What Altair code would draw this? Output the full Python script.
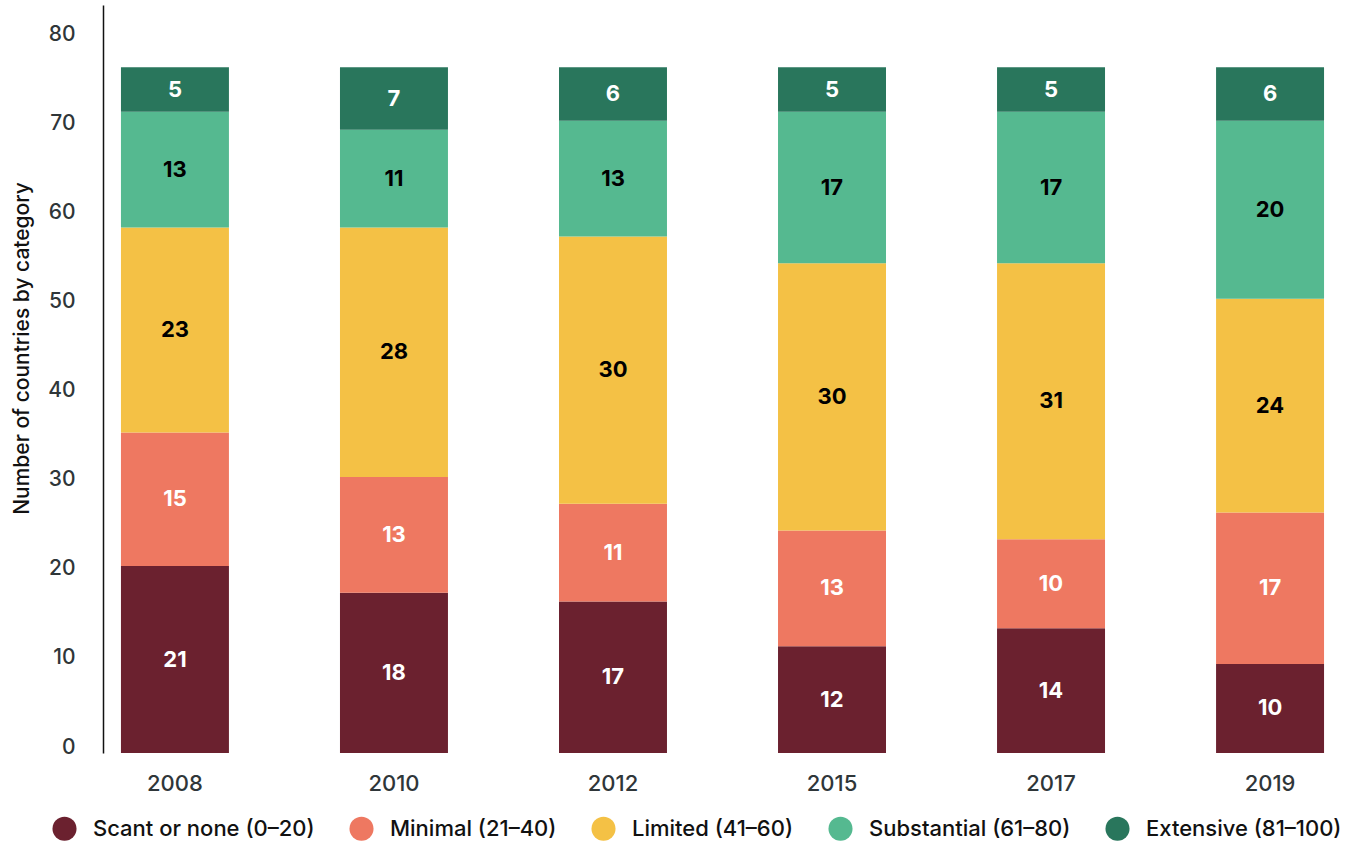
import altair as alt
import pandas as pd

years = ["2008", "2010", "2012", "2015", "2017", "2019"]
categories = [
    "Scant or none (0–20)",
    "Minimal (21–40)",
    "Limited (41–60)",
    "Substantial (61–80)",
    "Extensive (81–100)",
]
scant = [21, 18, 17, 12, 14, 10]
minimal = [15, 13, 11, 13, 10, 17]
limited = [23, 28, 30, 30, 31, 24]
substantial = [13, 11, 13, 17, 17, 20]
extensive = [5, 7, 6, 5, 5, 6]
y_ticks = [0, 10, 20, 30, 40, 50, 60, 70, 80]

colors = ["#6B212F", "#EE7861", "#F4C145", "#55B990", "#29765C"]

series = [scant, minimal, limited, substantial, extensive]
rows = []
for ci, (cat, vals) in enumerate(zip(categories, series)):
    for yi, yr in enumerate(years):
        rows.append({"year": yr, "category": cat, "idx": ci, "value": vals[yi]})
df = pd.DataFrame(rows)

FONT = "Inter"

base = alt.Chart(df)

bars = base.mark_bar(stroke=None).encode(
    x=alt.X("year:N", sort=years,
            scale=alt.Scale(paddingInner=0.507, paddingOuter=0.082),
            axis=alt.Axis(title=None, labelAngle=0, domain=False, ticks=False,
                          labelPadding=20, labelFontSize=22, labelFont=FONT,
                          labelFontWeight=500, labelColor="#2f3639")),
    y=alt.Y("sum(value):Q", stack="zero",
            scale=alt.Scale(domain=[0, 84], nice=False),
            axis=alt.Axis(title="Number of countries by category", values=y_ticks,
                          grid=False, ticks=False, domain=True, domainColor="#111111",
                          domainWidth=1.5, labelPadding=28, labelFontSize=21,
                          labelFont=FONT, labelFontWeight=500, labelColor="#2f3639",
                          labelOffset=-6, titleFont=FONT, titleFontSize=21,
                          titleFontWeight=500, titleColor="#111111", titlePadding=15,
                          titleY=343)),
    color=alt.Color("category:N", sort=categories,
                    scale=alt.Scale(domain=categories, range=colors),
                    legend=alt.Legend(title=None, orient="none", direction="horizontal",
                                      legendX=-51, legendY=811, symbolType="circle",
                                      symbolSize=580, symbolStrokeWidth=0,
                                      labelFont=FONT, labelFontSize=22,
                                      labelFontWeight=500, labelColor="#111111",
                                      labelOffset=16, columnPadding=34,
                                      labelLimit=400)),
    order=alt.Order("idx:Q", sort="ascending"),
)

labels = base.transform_window(
    cum="sum(value)", groupby=["year"], sort=[alt.SortField("idx", order="ascending")]
).transform_calculate(
    mid="datum.cum - datum.value / 2"
).mark_text(font=FONT, fontSize=22, fontWeight="bold", baseline="middle").encode(
    x=alt.X("year:N", sort=years),
    y=alt.Y("mid:Q"),
    text=alt.Text("value:Q"),
    color=alt.condition("datum.idx == 2 || datum.idx == 3",
                        alt.value("#000000"), alt.value("#ffffff")),
)

chart = alt.layer(bars, labels).properties(
    width=1239, height=748,
    autosize=alt.AutoSizeParams(type="none"),
    padding={"left": 103, "top": 5, "right": 14, "bottom": 89},
).configure_view(stroke=None)

chart.save("out.html", embed_options={"renderer": "svg", "actions": False})
